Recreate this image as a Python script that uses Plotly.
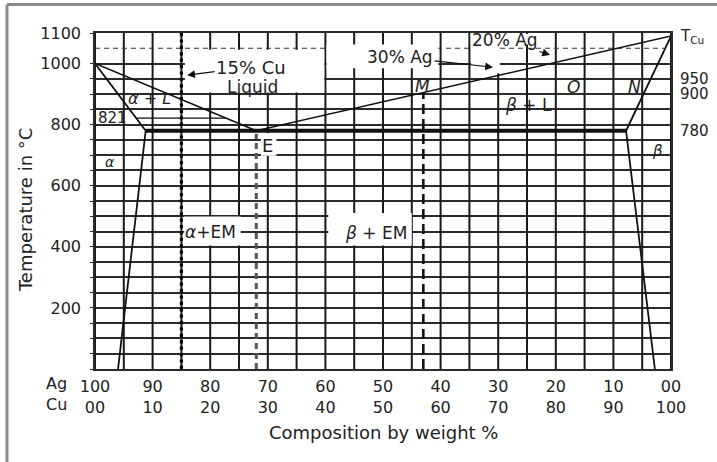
import plotly.graph_objects as go

# ---------------- data ----------------
cu_ticks = [0, 10, 20, 30, 40, 50, 60, 70, 80, 90, 100]
ag_labels = ["100", "90", "80", "70", "60", "50", "40", "30", "20", "10", "00"]
cu_labels = ["00", "10", "20", "30", "40", "50", "60", "70", "80", "90", "100"]
temp_ticks = [200, 400, 600, 800, 1000, 1100]
right_ticks = [780, 900, 950, 1090]
right_labels = ["780", "900", "950", "T<sub>Cu</sub>"]

# phase boundaries (Cu wt %, temperature °C)
liquidus_cu = [0, 28, 100]
liquidus_t = [1000, 780, 1090]
alpha_cu = [0, 8.8, 4.0]          # solidus + solvus of alpha
alpha_t = [1000, 780, 0]
beta_cu = [100, 92.2, 97.2]       # solidus + solvus of beta
beta_t = [1090, 780, 0]
eutectic_cu = [8.8, 92.2]
eutectic_t = [780, 780]
line821_cu = [7.2, 22.8]
line821_t = [821, 821]

# alloy verticals and reference lines
alloy15_cu = [15, 15]
alloy15_t = [0, 1100]
alloyE_cu = [28, 28]
alloyE_t = [0, 770]
alloyM_cu = [57, 57]
alloyM_t = [0, 905]
iso900_cu = [57, 95.2]
iso900_t = [900, 900]
iso1050_cu = [0, 98.8]
iso1050_t = [1050, 1050]

grid_x = list(range(0, 101, 5))
grid_y = [v for v in range(0, 1101, 50) if v != 1050]

FONT = "DejaVu Sans"
GRID = "#2b2b2b"
TXT = "#222"

fig = go.Figure()

# vertical grid every 5 %: one trace per line, beneath the other lines
for v in grid_x:
    fig.add_trace(go.Scatter(x=[v, v], y=[0, 1100], mode="lines", showlegend=False,
                             hoverinfo="skip", line=dict(color="#1a1a1a", width=2)))

def add_line(x, y, width=1.5, dash="solid", color="#111"):
    fig.add_trace(go.Scatter(x=x, y=y, mode="lines", showlegend=False, hoverinfo="skip",
                             line=dict(color=color, width=width, dash=dash)))

add_line(iso1050_cu, iso1050_t, 1.2, "5px,4px", "#333")
add_line(iso900_cu, iso900_t, 1.2, "4px,3px", "#333")
add_line(line821_cu, line821_t, 1.2)
add_line(liquidus_cu, liquidus_t, 1.5)
add_line(alpha_cu, alpha_t, 1.8)
add_line(beta_cu, beta_t, 1.8)
add_line(eutectic_cu, eutectic_t, 4)
add_line(alloy15_cu, alloy15_t, 3.2, "dot", "#000")
add_line(alloyE_cu, alloyE_t, 3, "6px,4px", "#555")
add_line(alloyM_cu, alloyM_t, 2.6, "10px,5px", "#111")

xtext = []
for v in grid_x:
    if v in cu_ticks:
        i = cu_ticks.index(v)
        xtext.append(f"{ag_labels[i]}<br>{cu_labels[i]}")
    else:
        xtext.append("")
ytext = [str(v) if v in temp_ticks else "" for v in grid_y]

fig.update_layout(
    width=717, height=462,
    margin=dict(l=95, r=46, t=33, b=93),
    paper_bgcolor="white", plot_bgcolor="white",
    font=dict(family=FONT, size=16, color=TXT),
    xaxis=dict(range=[0, 100], tickmode="array", tickvals=grid_x, ticktext=xtext,
               showgrid=False, zeroline=False,
               showline=True, linecolor=GRID, linewidth=1.5, mirror=True,
               ticks="", ticklabelstandoff=2, tickfont=dict(size=16)),
    yaxis=dict(range=[0, 1100], tickmode="array", tickvals=grid_y, ticktext=ytext,
               showgrid=True, gridcolor=GRID, gridwidth=1.5, zeroline=False,
               showline=True, linecolor=GRID, linewidth=1.5, mirror=True,
               ticks="outside", ticklen=3, tickcolor=GRID, ticklabelstandoff=6,
               tickfont=dict(size=16)),
)

# white boxes behind labels (grid interruptions)
boxes = [
    (15.6, 39.8, 905, 1045),
    (40.2, 59.6, 985, 1062),
    (65.2, 77.0, 1062, 1097),
    (65.3, 70.3, 968, 1062),
    (15.5, 25.3, 404, 499),
    (40.5, 55.0, 404, 511),
    (28.8, 31.5, 698, 772),
]
for x0, x1, y0, y1 in boxes:
    fig.add_shape(type="rect", x0=x0, x1=x1, y0=y0, y1=y1, xref="x", yref="y",
                  fillcolor="white", line=dict(width=0), layer="above")

# gray frame of the page
fig.add_shape(type="line", xref="paper", yref="paper", x0=-0.1528, x1=-0.1528,
              y0=-0.3, y1=1.0848, line=dict(color="#8a8a8a", width=3))
fig.add_shape(type="line", xref="paper", yref="paper", x0=-0.1528, x1=1.1,
              y0=1.0848, y1=1.0848, line=dict(color="#8a8a8a", width=3))

def label(text, x, y, size=17):
    fig.add_annotation(text=text, x=x, y=y, xref="x", yref="y", showarrow=False,
                       xanchor="center", yanchor="middle",
                       font=dict(size=size, family=FONT, color=TXT))

def arrow_label(text, x, y, ax, ay, size=17):
    fig.add_annotation(text=text, x=x, y=y, xref="x", yref="y", ax=ax, ay=ay,
                       showarrow=True, arrowhead=2, arrowsize=1.3, arrowwidth=1.2,
                       arrowcolor="#111", font=dict(size=size, family=FONT, color=TXT))

arrow_label("15% Cu", 16.0, 962, 64, -8, 18)
label("Liquid", 27.4, 923)
arrow_label("30% Ag", 69.1, 988, -93, -10)
arrow_label("20% Ag", 79.0, 1028, -45, -15)
label("<i>α</i> + <i>L</i>", 9.5, 887, 16)
label("821", 3.0, 822, 15)
label("E", 30.0, 733, 18)
label("<i>α</i>", 2.6, 678, 14)
label("<i>α</i>+EM", 20.1, 448)
label("<i>β</i> + EM", 48.8, 445)
label("<i>M</i>", 56.8, 926)
label("<i>β</i> + L", 75.2, 864)
label("<i>O</i>", 83.0, 923)
label("<i>N</i>", 93.6, 923)
label("<i>β</i>", 97.6, 714, 15)

# right-hand temperature marks
for v, t in zip(right_ticks, right_labels):
    fig.add_annotation(text=t, x=1.012, y=v, xref="paper", yref="y", showarrow=False,
                       xanchor="left", yanchor="middle",
                       font=dict(size=15, family=FONT, color=TXT))

def paper_text(text, x, y, size=16, angle=0):
    fig.add_annotation(text=text, xref="paper", yref="paper", x=x, y=y, showarrow=False,
                       xanchor="center", yanchor="middle", textangle=angle,
                       font=dict(size=size, family=FONT, color=TXT))

paper_text("Ag", -0.066, -0.0446, 16)
paper_text("Cu", -0.066, -0.107, 16)
paper_text("Composition by weight %", 0.5, -0.1875, 18)
paper_text("Temperature in °C", -0.1215, 0.473, 18, -90)

fig.write_html("out.html", config={"displayModeBar": False},
               post_script="document.body.style.margin='0px';")
